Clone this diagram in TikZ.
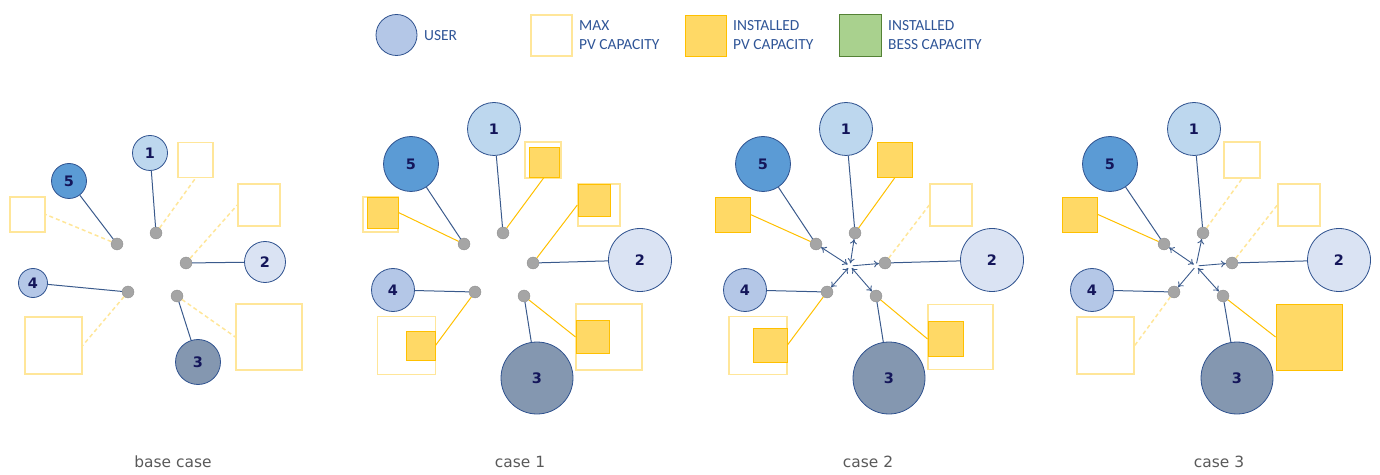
\documentclass[tikz,border=0pt]{standalone}
\usepackage{fontspec}
\setmainfont{DejaVu Sans}
\newfontfamily\legendfont{Carlito}
\usepackage{xcolor}
\usetikzlibrary{arrows.meta}
\definecolor{uone}{HTML}{BDD7EE}
\definecolor{utwo}{HTML}{DAE3F3}
\definecolor{uthree}{HTML}{8497B0}
\definecolor{ufour}{HTML}{B4C7E7}
\definecolor{ufive}{HTML}{5B9BD5}
\definecolor{userborder}{HTML}{2F528F}
\definecolor{numtext}{HTML}{14165A}
\definecolor{linkblue}{HTML}{3A5A8C}
\definecolor{pvpale}{HTML}{FFE699}
\definecolor{pvdark}{HTML}{FFC000}
\definecolor{pvfill}{HTML}{FFD966}
\definecolor{bessfill}{HTML}{A9D18E}
\definecolor{bessdark}{HTML}{548235}
\definecolor{dotgray}{HTML}{A5A5A5}
\definecolor{legendblue}{HTML}{2F5597}
\definecolor{captiongray}{HTML}{595959}
\tikzset{
>={To[length=5bp,width=7bp]},
user/.style={%
    circle,
    draw=userborder, line width=0.8bp,
    fill=#1,
    inner sep=0pt,
    % number inside
    text=numtext, font=\fontsize{14.5}{14.5}\selectfont\bfseries
},
maxpv/.style={rectangle,inner sep=0pt,draw=pvpale,line width=1.4bp,fill=white},
pvbox/.style={rectangle,inner sep=0pt,draw=pvdark,line width=0.9bp,fill=pvfill},
bessbox/.style={rectangle,inner sep=0pt,draw=bessdark,line width=0.9bp,fill=bessfill},
junction/.style={circle,inner sep=0pt,minimum size=12bp,fill=dotgray,draw=dotgray!85!black,line width=0.3bp},
hub/.style={circle,inner sep=0pt,minimum size=5bp},
userline/.style={draw=linkblue,line width=1bp},
pvline/.style={draw=pvdark,line width=1bp},
pvdash/.style={draw=pvpale,line width=1.5bp,dash pattern=on 4bp off 3bp},
flow/.style={draw=linkblue,line width=0.9bp},
legend/.style={%
    anchor=west, align=left, inner sep=0pt,
    text=legendblue, font=\legendfont\fontsize{15.5}{18.5}\selectfont
},
caption/.style={anchor=base,text=captiongray,font=\fontsize{15.5}{18}\selectfont},
}

\begin{document}
\begin{tikzpicture}[x=1bp,y=-1bp]
	\useasboundingbox (0,0) rectangle (1380,475);

	% legend
	\node[user=ufour, minimum size=41bp] at (396.5,35) (legUser) {};
	\node[legend] at (424,36) (legUserTxt) {USER};
	\node[maxpv, minimum size=41bp] at (551.5,35.5) (legMax) {};
	\node[legend] at (579,35) (legMaxTxt) {MAX\\PV CAPACITY};
	\node[pvbox, minimum size=41bp] at (706,35.5) (legPv) {};
	\node[legend] at (733,35) (legPvTxt) {INSTALLED\\PV CAPACITY};
	\node[bessbox, minimum size=42bp] at (860.5,35.5) (legBess) {};
	\node[legend] at (888,35) (legBessTxt) {INSTALLED\\BESS CAPACITY};

	% base case
	\node[maxpv, minimum size=35bp] at (195.5,160) (Am1) {};
	\node[maxpv, minimum size=35bp] at (27.5,214.5) (Am5) {};
	\node[maxpv, minimum size=42bp] at (259,205) (Am2) {};
	\node[maxpv, minimum size=57bp] at (53.5,345.5) (Am4) {};
	\node[maxpv, minimum size=66bp] at (269,337) (Am3) {};
	\node[user=uone, minimum size=35bp] at (150,153) (Au1) {1};
	\node[user=ufive, minimum size=35bp] at (69,181) (Au5) {5};
	\node[user=utwo, minimum size=41bp] at (265,262) (Au2) {2};
	\node[user=ufour, minimum size=29bp] at (33,283) (Au4) {4};
	\node[user=uthree, minimum size=45bp] at (198,362) (Au3) {3};
	\node[junction] at (156,233) (Aj1) {};
	\node[junction] at (117,244) (Aj5) {};
	\node[junction] at (186,263) (Aj2) {};
	\node[junction] at (128,292) (Aj4) {};
	\node[junction] at (177,296) (Aj3) {};
	\node[caption] at (173,467) (capA) {base case};

	% case 1
	\node[maxpv, minimum size=36bp] at (543,160) (Bm1) {};
	\node[pvbox, minimum size=30bp] at (544,162) (Bi1) {};
	\node[maxpv, minimum size=35bp] at (380.5,214.5) (Bm5) {};
	\node[pvbox, minimum size=31bp] at (382.5,212.5) (Bi5) {};
	\node[maxpv, minimum size=42bp] at (599,205) (Bm2) {};
	\node[pvbox, minimum size=32bp] at (594,200) (Bi2) {};
	\node[maxpv, minimum size=58bp] at (406.5,345.5) (Bm4) {};
	\node[pvbox, minimum size=29bp] at (420.5,345.5) (Bi4) {};
	\node[maxpv, minimum size=66bp] at (609,337) (Bm3) {};
	\node[pvbox, minimum size=33bp] at (592.5,337) (Bi3) {};
	\node[user=uone, minimum size=53bp] at (494,129) (Bu1) {1};
	\node[user=ufive, minimum size=55bp] at (411,164) (Bu5) {5};
	\node[user=utwo, minimum size=63bp] at (640,260) (Bu2) {2};
	\node[user=ufour, minimum size=43bp] at (393,290) (Bu4) {4};
	\node[user=uthree, minimum size=72bp] at (537,378) (Bu3) {3};
	\node[junction] at (503,233) (Bj1) {};
	\node[junction] at (464,244) (Bj5) {};
	\node[junction] at (533,263) (Bj2) {};
	\node[junction] at (475,292) (Bj4) {};
	\node[junction] at (524,296) (Bj3) {};
	\node[caption] at (520,467) (capB) {case 1};

	% case 2
	\node[pvbox, minimum size=35bp] at (895,159.5) (Ci1) {};
	\node[pvbox, minimum size=35bp] at (732.5,214.5) (Ci5) {};
	\node[maxpv, minimum size=42bp] at (951,205) (Cm2) {};
	\node[maxpv, minimum size=58bp] at (758,345.5) (Cm4) {};
	\node[pvbox, minimum size=34bp] at (770,345) (Ci4) {};
	\node[maxpv, minimum size=65bp] at (960.5,337) (Cm3) {};
	\node[pvbox, minimum size=35bp] at (945.5,339) (Ci3) {};
	\node[user=uone, minimum size=53bp] at (846,129) (Cu1) {1};
	\node[user=ufive, minimum size=55bp] at (763,164) (Cu5) {5};
	\node[user=utwo, minimum size=63bp] at (992,260) (Cu2) {2};
	\node[user=ufour, minimum size=43bp] at (745,290) (Cu4) {4};
	\node[user=uthree, minimum size=72bp] at (889,378) (Cu3) {3};
	\node[junction] at (855,233) (Cj1) {};
	\node[junction] at (816,244) (Cj5) {};
	\node[junction] at (885,263) (Cj2) {};
	\node[junction] at (827,292) (Cj4) {};
	\node[junction] at (876,296) (Cj3) {};
	\node[hub] at (850,266) (Chub) {};
	\node[caption] at (868,467) (capC) {case 2};

	% case 3
	\node[maxpv, minimum size=36bp] at (1242,160) (Dm1) {};
	\node[pvbox, minimum size=35bp] at (1080,214.5) (Di5) {};
	\node[maxpv, minimum size=42bp] at (1299,205) (Dm2) {};
	\node[maxpv, minimum size=57bp] at (1105.5,345.5) (Dm4) {};
	\node[pvbox, minimum size=66bp] at (1309,337) (Di3) {};
	\node[user=uone, minimum size=53bp] at (1194,129) (Du1) {1};
	\node[user=ufive, minimum size=55bp] at (1110,164) (Du5) {5};
	\node[user=utwo, minimum size=63bp] at (1339,260) (Du2) {2};
	\node[user=ufour, minimum size=43bp] at (1092,290) (Du4) {4};
	\node[user=uthree, minimum size=72bp] at (1237,378) (Du3) {3};
	\node[junction] at (1203,233) (Dj1) {};
	\node[junction] at (1164,244) (Dj5) {};
	\node[junction] at (1232,263) (Dj2) {};
	\node[junction] at (1174,292) (Dj4) {};
	\node[junction] at (1223,296) (Dj3) {};
	\node[hub] at (1196,266) (Dhub) {};
	\node[caption] at (1219,467) (capD) {case 3};

	% users to junctions
	\foreach \p in {A,B,C,D}
		\foreach \k in {1,...,5}
			\draw[userline] (\p u\k) -- (\p j\k);

	% pv to junctions
	\draw[pvdash] (Aj1) -- (Am1.south);
	\draw[pvdash] (Aj5) -- (Am5.east);
	\draw[pvdash] (Aj2) -- (Am2.west);
	\draw[pvdash] (Aj4) -- (Am4.east);
	\draw[pvdash] (Aj3) -- (Am3.west);
	\draw[pvline] (Bj1) -- (Bi1.south);
	\draw[pvline] (Bj5) -- (Bi5.east);
	\draw[pvline] (Bj2) -- (Bm2.west);
	\draw[pvline] (Bj4) -- (Bi4.east);
	\draw[pvline] (Bj3) -- (Bi3.west);
	\draw[pvline] (Cj1) -- (Ci1.south);
	\draw[pvline] (Cj5) -- (Ci5.east);
	\draw[pvdash] (Cj2) -- (Cm2.west);
	\draw[pvline] (Cj4) -- (Ci4.east);
	\draw[pvline] (Cj3) -- (Ci3.west);
	\draw[pvdash] (Dj1) -- (Dm1.south);
	\draw[pvline] (Dj5) -- (Di5.east);
	\draw[pvdash] (Dj2) -- (Dm2.west);
	\draw[pvdash] (Dj4) -- (Dm4.east);
	\draw[pvline] (Dj3) -- (Di3.west);

	% exchanges through the hub
	\foreach \k in {1,3,4,5}
		\draw[flow,<->] (Chub) -- (Cj\k);
	\draw[flow,->] (Chub) -- (Cj2);
	\foreach \k in {3,5}
		\draw[flow,<->] (Dhub) -- (Dj\k);
	\foreach \k in {1,2,4}
		\draw[flow,->] (Dhub) -- (Dj\k);

\end{tikzpicture}
\end{document}
